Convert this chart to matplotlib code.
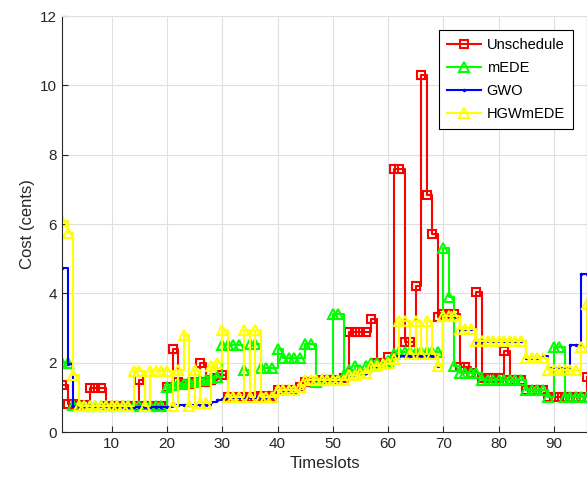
import matplotlib
matplotlib.use("Agg")
import matplotlib.pyplot as plt
import numpy as np

plt.rcParams['font.family'] = ['Liberation Sans', 'DejaVu Sans']

# timeslots 1..96
timeslots = list(range(1, 97))

unschedule = [1.35, 0.8, 0.8, 0.78, 0.78, 1.28, 1.28, 1.28, 0.75, 0.75,
              0.75, 0.75, 0.75, 0.75, 1.5, 0.75, 0.75, 0.75, 0.75, 1.3,
              2.4, 1.45, 1.4, 1.4, 1.45, 2.0, 1.45, 1.5, 1.55, 1.65,
              1.0, 1.0, 1.0, 1.0, 1.0, 1.0, 1.05, 1.05, 1.05, 1.2,
              1.2, 1.2, 1.2, 1.3, 1.45, 1.45, 1.45, 1.5, 1.5, 1.5,
              1.5, 1.55, 2.9, 2.9, 2.9, 2.9, 3.27, 2.0, 2.0, 2.17,
              7.6, 7.6, 2.6, 2.6, 4.22, 10.3, 6.85, 5.72, 3.33, 3.4,
              3.4, 3.4, 1.88, 1.88, 1.7, 4.05, 1.55, 1.55, 1.55, 1.55,
              2.35, 1.5, 1.5, 1.5, 1.2, 1.2, 1.2, 1.2, 1.0, 1.0,
              1.0, 1.0, 1.0, 1.0, 1.0, 1.6]

medE = [2.0, 2.0, 0.78, 0.78, 0.75, 0.75, 0.75, 0.75, 0.75, 0.75,
        0.75, 0.75, 0.75, 0.75, 0.75, 0.75, 0.75, 0.75, 0.75, 1.3,
        1.35, 1.4, 1.4, 1.45, 1.45, 1.5, 1.5, 1.55, 1.6, 2.5,
        2.5, 2.5, 2.5, 1.8, 2.55, 2.55, 1.85, 1.85, 1.85, 2.4,
        2.15, 2.15, 2.15, 2.15, 2.55, 2.55, 1.45, 1.5, 1.5, 3.4,
        3.4, 1.65, 1.8, 1.9, 1.8, 1.9, 2.0, 2.0, 1.95, 2.05,
        2.25, 2.3, 2.3, 2.3, 2.3, 2.3, 2.3, 2.3, 2.3, 5.3,
        3.9, 1.9, 1.7, 1.7, 1.7, 1.7, 1.5, 1.5, 1.5, 1.5,
        1.5, 1.5, 1.5, 1.5, 1.2, 1.2, 1.2, 1.2, 1.0, 2.45,
        2.45, 1.0, 1.0, 1.0, 1.0, 1.0]

gwo = [4.72, 1.95, 0.75, 0.75, 0.75, 0.75, 0.75, 0.75, 0.75, 0.73,
       0.73, 0.73, 0.73, 0.73, 0.73, 0.73, 0.73, 0.73, 0.73, 0.73,
       0.78, 0.78, 0.78, 0.78, 0.78, 0.78, 0.78, 0.87, 0.92, 0.95,
       1.0, 1.0, 1.0, 1.0, 1.0, 1.0, 1.0, 1.0, 1.0, 1.2,
       1.2, 1.2, 1.2, 1.3, 1.5, 1.5, 1.5, 1.5, 1.5, 1.5,
       1.5, 1.5, 1.65, 1.65, 1.7, 1.7, 1.9, 1.9, 1.95, 2.0,
       2.2, 2.2, 2.2, 2.2, 2.2, 2.2, 2.2, 2.2, 1.9, 3.35,
       3.35, 3.35, 2.98, 2.98, 2.98, 2.62, 2.62, 2.62, 2.62, 2.62,
       2.62, 2.62, 2.62, 2.62, 2.15, 2.15, 2.15, 2.2, 1.85, 1.85,
       1.85, 1.85, 2.5, 2.5, 4.55, 4.55]

hgwmede = [6.1, 5.75, 1.65, 0.75, 0.75, 0.75, 0.75, 0.75, 0.75, 0.75,
           0.75, 0.75, 0.75, 1.75, 1.75, 0.75, 1.75, 1.75, 1.75, 1.75,
           0.75, 1.8, 2.8, 0.75, 1.8, 0.85, 0.85, 1.9, 2.0, 2.95,
           1.0, 1.0, 1.0, 2.95, 1.0, 2.95, 1.0, 1.0, 1.0, 1.2,
           1.2, 1.2, 1.2, 1.3, 1.5, 1.5, 1.5, 1.5, 1.5, 1.5,
           1.5, 1.5, 1.65, 1.65, 1.7, 1.7, 1.9, 1.9, 1.95, 2.0,
           2.1, 3.2, 3.2, 2.25, 3.2, 2.25, 3.2, 2.25, 1.9, 3.35,
           3.35, 3.35, 2.98, 2.98, 2.98, 2.62, 2.62, 2.62, 2.62, 2.62,
           2.62, 2.62, 2.62, 2.62, 2.15, 2.15, 2.15, 2.15, 1.8, 1.8,
           1.8, 1.8, 1.8, 1.8, 2.45, 3.7]

fig = plt.figure(figsize=(5.87, 4.86), dpi=100)
ax = fig.add_axes([0.1056, 0.111, 0.8944, 0.856])

ax.plot(timeslots, unschedule, drawstyle='steps-post', color='red', lw=1.5,
        marker='s', ms=6, mfc='none', mew=1.5, label='Unschedule')
ax.plot(timeslots, medE, drawstyle='steps-post', color=(0, 1, 0), lw=1.5,
        marker='^', ms=7, mfc='none', mew=1.5, label='mEDE')
ax.plot(timeslots, gwo, drawstyle='steps-post', color='blue', lw=1.5,
        marker='.', ms=3, label='GWO')
ax.plot(timeslots, hgwmede, drawstyle='steps-post', color=(1, 1, 0), lw=1.5,
        marker='^', ms=7, mfc='none', mew=1.5, label='HGWmEDE')

ax.set_xlim(1, 96)
ax.set_ylim(0, 12)
ax.set_xticks(range(10, 100, 10))
ax.set_yticks(range(0, 13, 2))
ax.grid(True, color=(0.88, 0.88, 0.88), lw=0.8)
ax.set_axisbelow(True)
ax.tick_params(direction='in', labelsize=11, colors=(0.15, 0.15, 0.15), length=4)
for s in ax.spines.values():
    s.set_color((0.15, 0.15, 0.15))
    s.set_linewidth(0.8)
ax.spines['top'].set_color((0.88, 0.88, 0.88))

ax.set_xlabel('Timeslots', fontsize=12, color=(0.15, 0.15, 0.15))
ax.set_ylabel('Cost (cents)', fontsize=12, color=(0.15, 0.15, 0.15))

leg = ax.legend(loc='upper right', bbox_to_anchor=(0.973, 0.966), fontsize=10.5,
                fancybox=False, edgecolor='black', framealpha=1, borderaxespad=0,
                handlelength=2.3, borderpad=0.55, labelspacing=0.62, handletextpad=0.4)
leg.get_frame().set_linewidth(0.8)

fig.savefig('out.png', dpi=100)
